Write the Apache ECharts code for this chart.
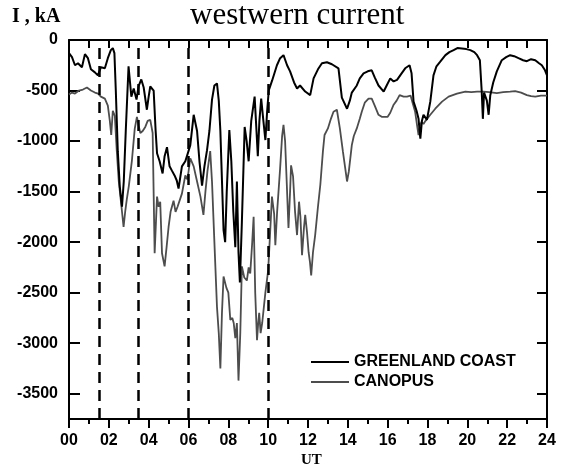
<!DOCTYPE html>
<html>
<head>
<meta charset="utf-8">
<script src="https://cdn.jsdelivr.net/npm/echarts@6/dist/echarts.min.js"></script>
<style>
  html, body { margin: 0; padding: 0; background: #fff; }
  #chart { width: 562px; height: 474px; }
</style>
</head>
<body>
<div id="chart"></div>
<script>
// time in UT hours, current in kA
const greenlandTimes = [0.0,0.15,0.3,0.45,0.65,0.8,0.95,1.1,1.3,1.45,1.6,1.8,1.95,2.1,2.2,2.28,2.35,2.45,2.55,2.66,2.75,2.85,2.99,3.13,3.25,3.39,3.49,3.63,3.75,3.91,4.0,4.08,4.25,4.35,4.42,4.55,4.7,4.8,4.92,5.05,5.16,5.3,5.41,5.5,5.67,5.84,6.0,6.09,6.26,6.43,6.55,6.68,6.8,6.93,7.05,7.18,7.3,7.43,7.52,7.6,7.68,7.76,7.84,7.92,8.05,8.15,8.25,8.35,8.43,8.51,8.58,8.68,8.82,8.92,9.02,9.15,9.32,9.4,9.48,9.56,9.65,9.76,9.86,9.95,10.03,10.2,10.44,10.6,10.77,10.95,11.1,11.3,11.45,11.6,11.86,12.11,12.28,12.5,12.7,12.95,13.2,13.53,13.7,13.96,14.1,14.2,14.45,14.6,14.79,15.0,15.2,15.35,15.54,15.8,15.95,16.13,16.3,16.47,16.7,16.88,17.1,17.2,17.3,17.45,17.55,17.64,17.72,17.8,17.97,18.14,18.3,18.45,18.64,18.9,19.1,19.31,19.5,19.73,19.95,20.15,20.35,20.49,20.63,20.72,20.78,20.84,20.9,20.98,21.07,21.15,21.3,21.48,21.73,21.95,22.15,22.35,22.57,22.8,22.99,23.2,23.41,23.6,23.74,23.9,24.0]
const greenlandValues = [-130,-170,-250,-230,-270,-140,-180,-290,-320,-350,-270,-280,-180,-100,-80,-130,-500,-1100,-1450,-1650,-1400,-900,-260,-560,-480,-590,-460,-390,-470,-690,-560,-460,-500,-900,-1120,-1200,-1320,-1150,-1060,-1250,-1290,-1340,-1390,-1470,-1250,-1200,-1100,-1040,-740,-900,-1200,-1440,-1250,-1090,-900,-590,-450,-430,-600,-900,-1390,-1880,-2000,-1500,-890,-1200,-1700,-2050,-1400,-2100,-2400,-1800,-860,-1000,-1200,-800,-560,-850,-1150,-800,-580,-800,-990,-700,-500,-400,-250,-180,-150,-250,-310,-420,-480,-450,-510,-545,-380,-290,-230,-220,-240,-280,-570,-680,-600,-520,-450,-380,-330,-310,-300,-370,-450,-510,-450,-380,-410,-395,-330,-280,-250,-330,-610,-700,-780,-975,-800,-740,-790,-610,-350,-260,-215,-150,-120,-100,-80,-85,-90,-100,-120,-150,-200,-500,-780,-520,-510,-600,-740,-550,-420,-310,-200,-170,-150,-160,-180,-200,-210,-190,-200,-230,-250,-300,-350]

const canopusTimes = [0.0,0.15,0.3,0.5,0.7,0.9,1.1,1.3,1.46,1.6,1.8,1.95,2.05,2.12,2.2,2.3,2.4,2.5,2.63,2.74,2.82,2.9,3.0,3.16,3.3,3.41,3.5,3.58,3.7,3.83,3.95,4.08,4.2,4.3,4.42,4.5,4.58,4.67,4.8,4.9,5.0,5.1,5.25,5.35,5.45,5.67,5.84,5.95,6.09,6.26,6.43,6.6,6.75,6.85,6.95,7.09,7.18,7.3,7.43,7.52,7.6,7.68,7.76,7.9,8.0,8.1,8.2,8.27,8.35,8.43,8.51,8.6,8.68,8.8,8.93,9.02,9.1,9.2,9.27,9.35,9.44,9.5,9.55,9.62,9.7,9.86,10.0,10.1,10.19,10.3,10.36,10.45,10.6,10.7,10.77,10.85,10.93,11.02,11.1,11.15,11.25,11.35,11.45,11.55,11.62,11.7,11.8,11.86,11.95,12.03,12.1,12.16,12.25,12.36,12.5,12.62,12.75,12.83,13.0,13.15,13.28,13.45,13.6,13.75,13.87,13.96,14.05,14.2,14.3,14.45,14.6,14.7,14.85,15.04,15.2,15.35,15.54,15.7,15.8,16.0,16.13,16.3,16.45,16.6,16.8,16.97,17.15,17.25,17.38,17.48,17.55,17.62,17.7,17.8,17.9,18.14,18.39,18.73,19.06,19.48,19.9,20.2,20.49,20.8,21.1,21.48,21.8,22.15,22.4,22.7,22.99,23.2,23.41,23.7,24.0]
const canopusValues = [-540,-520,-530,-500,-490,-470,-500,-520,-530,-560,-580,-650,-800,-940,-700,-750,-1100,-1400,-1640,-1850,-1700,-1580,-1450,-1190,-880,-760,-850,-920,-900,-860,-800,-790,-920,-2110,-1550,-1650,-1600,-2110,-2240,-2050,-1850,-1700,-1590,-1700,-1650,-1520,-1340,-1380,-1170,-1250,-1400,-1550,-1730,-1500,-1300,-1100,-1400,-2000,-2640,-2900,-3250,-2700,-2340,-2450,-2500,-2770,-2750,-2800,-2950,-2800,-3370,-2900,-2240,-2350,-2380,-2250,-2310,-2000,-1750,-2500,-2970,-2800,-2700,-2900,-2800,-2500,-2280,-1900,-1550,-1720,-2030,-1700,-1270,-950,-840,-1000,-1400,-1860,-1500,-1240,-1350,-1700,-1930,-1600,-1750,-2130,-1850,-1730,-1900,-2100,-2200,-2330,-2100,-1930,-1650,-1430,-1100,-940,-875,-780,-710,-690,-875,-1100,-1270,-1400,-1300,-1040,-950,-875,-780,-710,-620,-580,-580,-650,-740,-760,-775,-760,-720,-640,-600,-545,-560,-560,-550,-620,-710,-850,-940,-850,-810,-830,-800,-740,-680,-610,-560,-530,-510,-515,-510,-510,-515,-525,-515,-510,-505,-520,-545,-555,-560,-550,-550]

// dashed vertical markers (UT)
const eventTimes = [1.5, 3.5, 6, 10]
const yTickValues = [0, -500, -1000, -1500, -2000, -2500, -3000, -3500]

const zip = (xs, ys) => xs.map((x, i) => [x, ys[i]])

const chart = echarts.init(document.getElementById('chart'))

const tickFont = {
  color: '#000',
  fontFamily: 'Liberation Sans',
  fontWeight: 'bold',
  fontSize: 16
}
// frame line, kept at the grid edge (not at zero)
const axisLine = { show: true, onZero: false, lineStyle: { color: '#000', width: 2 } }
const tickStyle = { color: '#000', width: 2 }

const option = {
  animation: false,
  backgroundColor: '#fff',
  grid: { left: 69, right: 15, top: 40, bottom: 55 },
  graphic: [
    {
      type: 'text', left: 190, top: 0,
      style: { text: 'westwern current', fill: '#000', font: '31px "Liberation Serif"' }
    },
    {
      type: 'text', left: 12, top: 7,
      style: { text: 'I , kA', fill: '#000', font: 'bold 20px "Liberation Serif"' }
    },
    {
      type: 'text', left: 301, top: 453,
      style: { text: 'UT', fill: '#000', font: 'bold 15px "Liberation Serif"' }
    }
  ],
  legend: {
    orient: 'vertical',
    left: 306,
    top: 349,
    itemWidth: 38,
    itemHeight: 2,
    itemGap: 4,
    icon: 'rect',
    textStyle: { color: '#000', fontFamily: 'Liberation Sans', fontWeight: 'bold', fontSize: 16, padding: [0, 0, 0, 0] },
    data: ['GREENLAND COAST', 'CANOPUS']
  },
  xAxis: [
    {
      type: 'value', min: 0, max: 24, interval: 2,
      axisLine,
      splitLine: { show: false },
      axisTick: { show: true, inside: false, length: 9, lineStyle: tickStyle },
      minorTick: { show: true, splitNumber: 2, length: 5, lineStyle: tickStyle },
      axisLabel: Object.assign({ margin: 14, formatter: (v) => String(v).padStart(2, '0') }, tickFont)
    },
    {
      type: 'value', position: 'top', min: 0, max: 24, interval: 1,
      axisLine,
      splitLine: { show: false },
      axisTick: { show: true, inside: true, length: 8, lineStyle: tickStyle },
      axisLabel: { show: false }
    }
  ],
  yAxis: [
    {
      type: 'value', min: -3750, max: 0,
      axisLine,
      splitLine: { show: false },
      axisTick: { show: true, inside: true, length: 11, customValues: yTickValues, lineStyle: tickStyle },
      axisLabel: Object.assign({ margin: 11, customValues: yTickValues, formatter: (v) => String(v) }, tickFont)
    },
    {
      type: 'value', position: 'right', min: -3750, max: 0,
      axisLine,
      splitLine: { show: false },
      axisTick: { show: true, inside: true, length: 10, customValues: yTickValues, lineStyle: tickStyle },
      axisLabel: { show: false }
    }
  ],
  series: [
    {
      name: 'CANOPUS',
      type: 'line',
      showSymbol: false,
      symbol: 'none',
      color: '#4d4d4d',
      lineStyle: { width: 1.8 },
      data: zip(canopusTimes, canopusValues)
    },
    {
      name: 'GREENLAND COAST',
      type: 'line',
      showSymbol: false,
      symbol: 'none',
      color: '#000',
      lineStyle: { width: 2 },
      data: zip(greenlandTimes, greenlandValues),
      markLine: {
        silent: true,
        symbol: 'none',
        label: { show: false },
        lineStyle: { color: '#000', width: 2.5, type: [11, 7] },
        data: eventTimes.map((t) => ({ xAxis: t }))
      }
    }
  ]
}

chart.setOption(option)
</script>
</body>
</html>
